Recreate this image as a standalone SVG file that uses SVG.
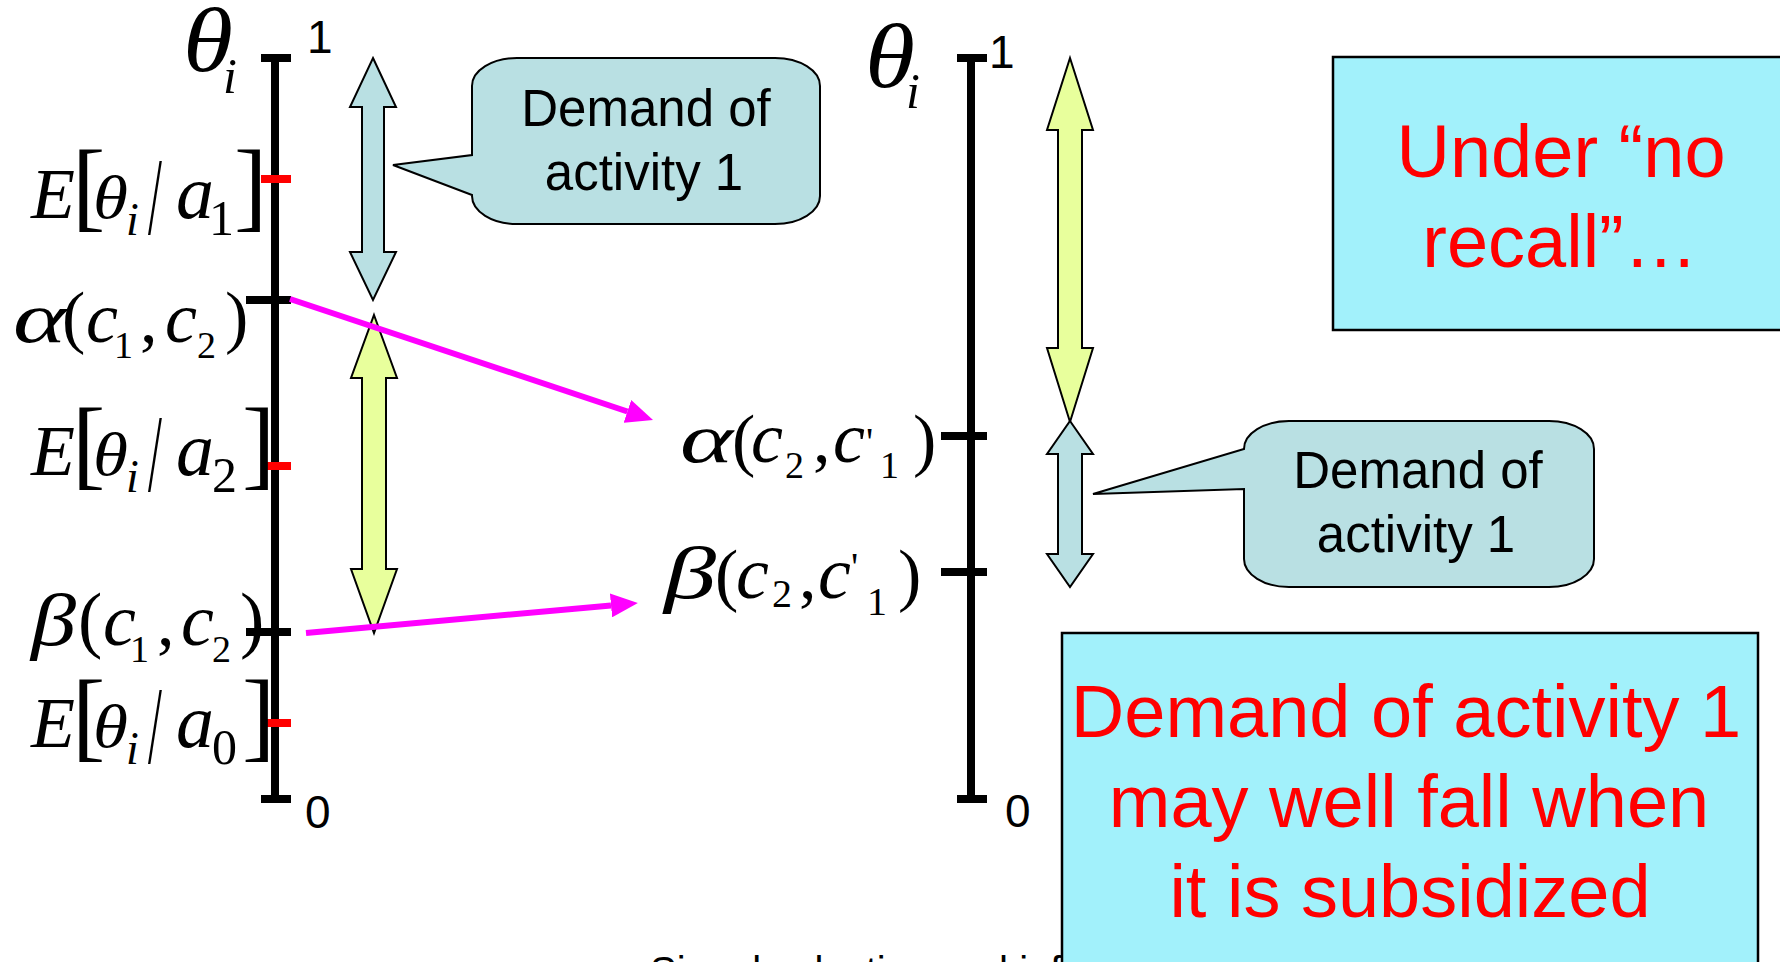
<svg xmlns="http://www.w3.org/2000/svg" width="1780" height="962" viewBox="0 0 1780 962">
<style>
.axis{stroke:#000;stroke-width:8;fill:none}
.red{stroke:#FF0000;stroke-width:8}
.math{font-family:"Liberation Serif","Times New Roman",serif;font-style:italic;fill:#000}
.up{font-style:normal}
.sans{font-family:"Liberation Sans",Arial,sans-serif;fill:#000}
.callout{fill:#B9E0E3;stroke:#000;stroke-width:2}
.yellow{fill:#E8FF9C;stroke:#000;stroke-width:2}
.bluearrow{fill:#B9E0E3;stroke:#000;stroke-width:2}
.box{fill:#A2F1FB;stroke:#000;stroke-width:2.5}
.redtext{font-family:"Liberation Sans",Arial,sans-serif;fill:#FF0000;font-size:74px;text-anchor:middle}
.ctext{font-family:"Liberation Sans",Arial,sans-serif;fill:#000;font-size:51px;text-anchor:middle}
.mag{stroke:#FF00FF;stroke-width:6;fill:none}
</style>
<defs>
<marker id="mh" markerUnits="userSpaceOnUse" markerWidth="28" markerHeight="24" refX="0" refY="12" orient="auto" viewBox="0 0 28 24"><path d="M0,0 L27,12 L0,24 Z" fill="#FF00FF"/></marker>
</defs>
<rect width="1780" height="962" fill="#FFFFFF"/>

<text id="footer" class="sans" x="650" y="985" font-size="40">Signal selection and inf</text>

<g id="axis-left">
<line class="axis" x1="275" y1="58" x2="275" y2="799"/>
<line class="axis" x1="261" y1="58" x2="291" y2="58"/>
<line class="axis" x1="261" y1="799" x2="291" y2="799"/>
<line class="axis" x1="246" y1="300" x2="291" y2="300"/>
<line class="axis" x1="246" y1="632" x2="291" y2="632"/>
<line class="red" x1="261" y1="179" x2="291" y2="179"/>
<line class="red" x1="261" y1="466" x2="291" y2="466"/>
<line class="red" x1="261" y1="723" x2="291" y2="723"/>
<text class="sans" x="307" y="53" font-size="46">1</text>
<text class="sans" x="305" y="828" font-size="46">0</text>
</g>

<g id="axis-right">
<line class="axis" x1="971" y1="58" x2="971" y2="799"/>
<line class="axis" x1="957" y1="58" x2="987" y2="58"/>
<line class="axis" x1="957" y1="799" x2="987" y2="799"/>
<line class="axis" x1="941" y1="436" x2="987" y2="436"/>
<line class="axis" x1="941" y1="572" x2="987" y2="572"/>
<text class="sans" x="989" y="68" font-size="46">1</text>
<text class="sans" x="1005" y="827" font-size="46">0</text>
</g>

<g id="label-theta-left">
<text class="math"><tspan x="183" y="71" font-size="92" textLength="50" lengthAdjust="spacingAndGlyphs">θ</tspan><tspan x="223" y="93" font-size="50">i</tspan></text>
</g>
<g id="label-theta-right">
<text class="math"><tspan x="865" y="87" font-size="92" textLength="50" lengthAdjust="spacingAndGlyphs">θ</tspan><tspan x="906" y="108" font-size="50">i</tspan></text>
</g>

<g id="label-E-a1">
<text class="math"><tspan x="31" y="218" font-size="72">E</tspan><tspan class="up" x="72" y="219" font-size="100">[</tspan><tspan x="93" y="218" font-size="62" textLength="35" lengthAdjust="spacingAndGlyphs">θ</tspan><tspan x="126" y="235" font-size="46">i</tspan><tspan x="176" y="218" font-size="76">a</tspan><tspan class="up" x="209" y="235" font-size="50">1</tspan><tspan class="up" x="234" y="219" font-size="100">]</tspan></text>
<text class="math up" transform="translate(148,234) scale(0.5,1.1)" font-size="100">/</text>
</g>
<g id="label-alpha-c1c2">
<text class="math"><tspan x="13" y="342" font-size="72" textLength="53" lengthAdjust="spacingAndGlyphs">α</tspan><tspan class="up" x="62" y="340" font-size="70">(</tspan><tspan x="86" y="342" font-size="72">c</tspan><tspan class="up" x="114" y="358" font-size="38">1</tspan><tspan class="up" x="140" y="342" font-size="70">,</tspan><tspan x="165" y="342" font-size="72">c</tspan><tspan class="up" x="197" y="358" font-size="38">2</tspan><tspan class="up" x="225" y="340" font-size="70">)</tspan></text>
</g>
<g id="label-E-a2">
<text class="math"><tspan x="31" y="475" font-size="72">E</tspan><tspan class="up" x="72" y="477" font-size="100">[</tspan><tspan x="93" y="475" font-size="62" textLength="35" lengthAdjust="spacingAndGlyphs">θ</tspan><tspan x="126" y="492" font-size="46">i</tspan><tspan x="176" y="475" font-size="76">a</tspan><tspan class="up" x="212" y="492" font-size="50">2</tspan><tspan class="up" x="242" y="477" font-size="100">]</tspan></text>
<text class="math up" transform="translate(148,491) scale(0.5,1.1)" font-size="100">/</text>
</g>
<g id="label-beta-c1c2">
<text class="math"><tspan x="31" y="645" font-size="74" textLength="45" lengthAdjust="spacingAndGlyphs">β</tspan><tspan class="up" x="78" y="644" font-size="73">(</tspan><tspan x="103" y="645" font-size="74">c</tspan><tspan class="up" x="130" y="662" font-size="38">1</tspan><tspan class="up" x="157" y="645" font-size="70">,</tspan><tspan x="181" y="645" font-size="74">c</tspan><tspan class="up" x="212" y="662" font-size="38">2</tspan><tspan class="up" x="240" y="644" font-size="73">)</tspan></text>
</g>
<g id="label-E-a0">
<text class="math"><tspan x="31" y="747" font-size="72">E</tspan><tspan class="up" x="72" y="749" font-size="100">[</tspan><tspan x="93" y="747" font-size="62" textLength="35" lengthAdjust="spacingAndGlyphs">θ</tspan><tspan x="126" y="764" font-size="46">i</tspan><tspan x="176" y="747" font-size="76">a</tspan><tspan class="up" x="212" y="764" font-size="50">0</tspan><tspan class="up" x="242" y="749" font-size="100">]</tspan></text>
<text class="math up" transform="translate(148,763) scale(0.5,1.1)" font-size="100">/</text>
</g>
<g id="label-alpha-c2c1p">
<text class="math"><tspan x="680" y="462" font-size="70" textLength="53" lengthAdjust="spacingAndGlyphs">α</tspan><tspan class="up" x="732" y="463" font-size="70">(</tspan><tspan x="751" y="462" font-size="72">c</tspan><tspan class="up" x="785" y="478" font-size="38">2</tspan><tspan class="up" x="813" y="462" font-size="70">,</tspan><tspan x="833" y="462" font-size="72">c</tspan><tspan class="up" x="866" y="455" font-size="40">'</tspan><tspan class="up" x="880" y="478" font-size="38">1</tspan><tspan class="up" x="913" y="463" font-size="70">)</tspan></text>
</g>
<g id="label-beta-c2c1p">
<text class="math"><tspan x="664" y="598" font-size="74" textLength="52" lengthAdjust="spacingAndGlyphs">β</tspan><tspan class="up" x="715" y="598" font-size="70">(</tspan><tspan x="736" y="598" font-size="74">c</tspan><tspan class="up" x="772" y="607" font-size="40">2</tspan><tspan class="up" x="799" y="598" font-size="70">,</tspan><tspan x="818" y="598" font-size="74">c</tspan><tspan class="up" x="851" y="580" font-size="40">'</tspan><tspan class="up" x="867" y="615" font-size="40">1</tspan><tspan class="up" x="898" y="598" font-size="70">)</tspan></text>
</g>

<g id="arrow-blue-left">
<polygon class="bluearrow" points="373,58 396,107 384,107 384,252 396,252 373,300 350,252 362,252 362,107 350,107"/>
</g>
<g id="arrow-yellow-left">
<polygon class="yellow" points="374,315 397,378 386,378 386,569 397,569 374,633 351,569 362,569 362,378 351,378"/>
</g>
<g id="arrow-yellow-right">
<polygon class="yellow" points="1070,58 1093,130 1082,130 1082,348 1093,348 1070,422 1047,348 1058,348 1058,130 1047,130"/>
</g>
<g id="arrow-blue-right">
<polygon class="bluearrow" points="1070,421 1093,454 1082,454 1082,554 1093,554 1070,587 1047,554 1058,554 1058,454 1047,454"/>
</g>

<g id="callout-left">
<path class="callout" d="M517,58 H775 A45,28 0 0 1 820,86 V196 A45,28 0 0 1 775,224 H517 A45,28 0 0 1 472,196 V195 L393,165 L472,155 V86 A45,28 0 0 1 517,58 Z"/>
<text class="ctext" x="646" y="126">Demand of</text>
<text class="ctext" x="644" y="190">activity 1</text>
</g>
<g id="callout-right">
<path class="callout" d="M1289,421 H1549 A45,28 0 0 1 1594,449 V559 A45,28 0 0 1 1549,587 H1289 A45,28 0 0 1 1244,559 V489 L1093,494 L1244,449 A45,28 0 0 1 1289,421 Z"/>
<text class="ctext" x="1418" y="488">Demand of</text>
<text class="ctext" x="1416" y="552">activity 1</text>
</g>

<g id="box-no-recall">
<rect class="box" x="1333" y="57" width="470" height="273"/>
<text class="redtext" x="1561" y="177">Under “no</text>
<text class="redtext" x="1560" y="267">recall”…</text>
</g>
<g id="box-demand-fall">
<rect class="box" x="1062" y="633" width="696" height="345"/>
<text class="redtext" x="1406" y="737">Demand of activity 1</text>
<text class="redtext" x="1409" y="827">may well fall when</text>
<text class="redtext" x="1410" y="917">it is subsidized</text>
</g>

<g id="connectors">
<path class="mag" d="M290,299 L627.4,411.5" marker-end="url(#mh)"/>
<path class="mag" d="M306,633 L611,605.4" marker-end="url(#mh)"/>
</g>
</svg>
